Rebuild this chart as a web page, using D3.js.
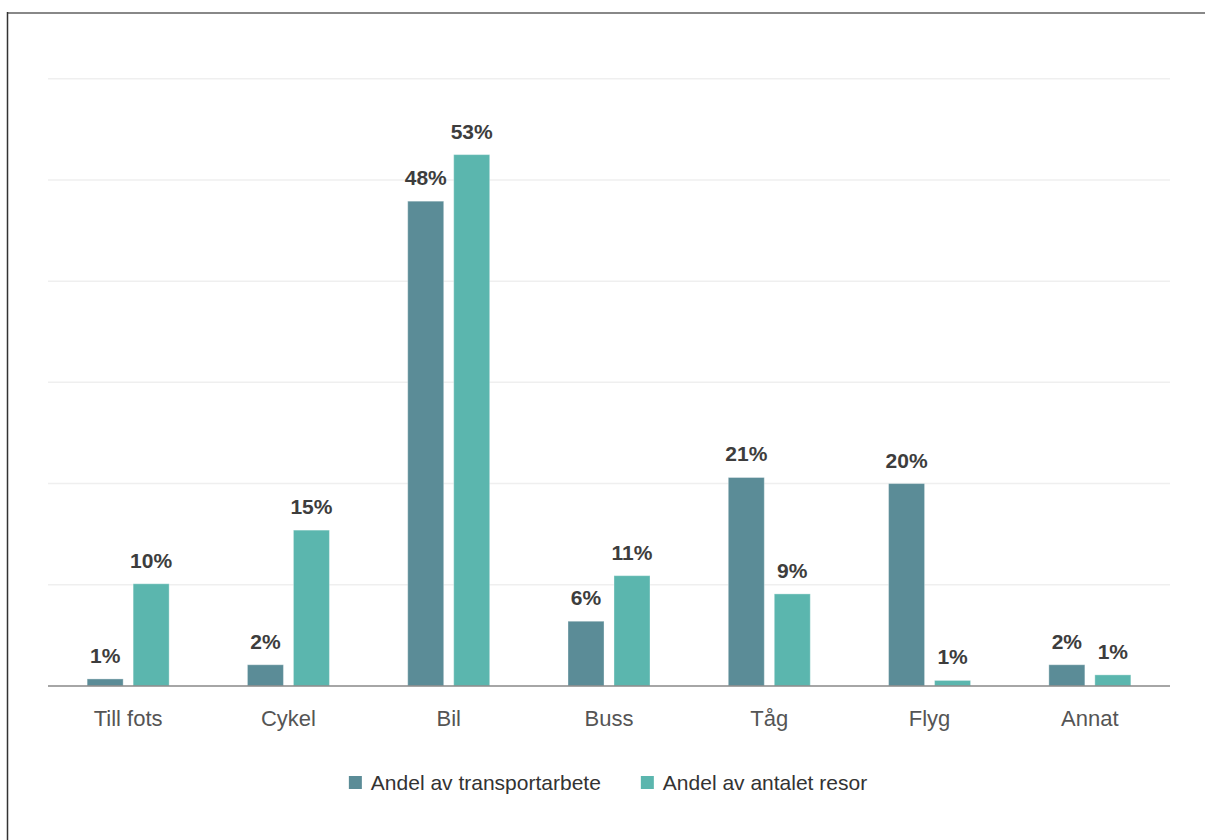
<!DOCTYPE html>
<html>
<head>
<meta charset="utf-8">
<script src="https://cdn.jsdelivr.net/npm/d3@7"></script>
<style>
  html, body { margin: 0; padding: 0; background: #fff; }
  svg { display: block; }
</style>
</head>
<body>
<svg id="chart" width="1205" height="840"></svg>
<script>
const categories = ["Till fots", "Cykel", "Bil", "Buss", "Tåg", "Flyg", "Annat"];
const seriesNames = ["Andel av transportarbete", "Andel av antalet resor"];
const transportarbete = [0.7, 2.1, 47.9, 6.4, 20.6, 20.0, 2.1];
const antaletResor = [10.1, 15.4, 52.5, 10.9, 9.1, 0.55, 1.1];
const yTicks = [0, 10, 20, 30, 40, 50, 60];
const colors = ["#5b8c97", "#5bb6ae"];

(function () {
const svg = d3.select("#chart");
const W = 1205, H = 840;
const mLeft = 48, mRight = 1170, mTop = 78.7, mBottom = 686;

// detect narrow font availability
const probe = svg.append("text").attr("font-family", "'Liberation Sans Narrow', 'Liberation Sans', sans-serif")
  .attr("font-size", 26).text("Till fots");
const probeW = probe.node().getComputedTextLength();
probe.remove();
const narrowOK = probeW < 75;
const labFont = narrowOK ? "'Liberation Sans Narrow', sans-serif" : "'Liberation Sans', Arial, sans-serif";
const axisSize = narrowOK ? 26 : 22;
const legSize = narrowOK ? 25 : 21;

// frame
svg.append("line").attr("x1", 7).attr("x2", W).attr("y1", 13).attr("y2", 13)
  .attr("stroke", "#888").attr("stroke-width", 2);
svg.append("line").attr("x1", 7.5).attr("x2", 7.5).attr("y1", 12).attr("y2", H)
  .attr("stroke", "#333").attr("stroke-width", 1.5);

const x0 = d3.scaleBand().domain(categories).range([mLeft, mRight]).paddingInner(0).paddingOuter(0);
const x1 = d3.scaleBand().domain(seriesNames).range([0, 82]).paddingInner(0.217).paddingOuter(0);
const y = d3.scaleLinear().domain([0, 60]).range([mBottom, mTop]);

// gridlines
svg.append("g").selectAll("line").data(yTicks.filter(d => d > 0)).join("line")
  .attr("x1", mLeft).attr("x2", mRight)
  .attr("y1", d => y(d)).attr("y2", d => y(d))
  .attr("stroke", "#efefef").attr("stroke-width", 1.5);

const data = categories.map((c, i) => ({
  cat: c,
  vals: [
    { s: seriesNames[0], v: transportarbete[i], k: 0 },
    { s: seriesNames[1], v: antaletResor[i], k: 1 }
  ]
}));

const groups = svg.append("g").selectAll("g").data(data).join("g")
  .attr("transform", d => `translate(${x0(d.cat) + x0.bandwidth() / 2 - 41},0)`);

groups.selectAll("rect").data(d => d.vals).join("rect")
  .attr("x", d => x1(d.s))
  .attr("width", x1.bandwidth())
  .attr("y", d => y(d.v))
  .attr("height", d => y(0) - y(d.v))
  .attr("fill", d => colors[d.k])
  .attr("stroke", "rgba(255,255,255,0.35)")
  .attr("stroke-width", 1);

groups.selectAll("text").data(d => d.vals).join("text")
  .attr("x", d => x1(d.s) + x1.bandwidth() / 2)
  .attr("y", d => y(d.v) - 16)
  .attr("text-anchor", "middle")
  .attr("font-family", "'Liberation Sans', Arial, sans-serif")
  .attr("font-weight", "bold")
  .attr("font-size", 21)
  .attr("fill", "#3d3d3d")
  .text(d => Math.round(d.v) + "%");

// baseline axis
const xAxis = d3.axisBottom(x0).tickSize(0).tickPadding(0);
const ax = svg.append("g").attr("transform", `translate(0,${mBottom})`).call(xAxis);
ax.select(".domain").attr("stroke", "#888").attr("stroke-width", 1.5).attr("d", `M${mLeft},0H${mRight}`);
ax.selectAll(".tick text")
  .attr("y", 40).attr("dy", 0)
  .attr("font-family", labFont)
  .attr("font-size", axisSize)
  .attr("fill", "#555");

// legend
const leg = svg.append("g");
const items = leg.selectAll("g").data(seriesNames).join("g");
items.append("rect").attr("width", 13).attr("height", 13).attr("y", 776)
  .attr("fill", (d, i) => colors[i]);
items.append("text").attr("y", 790).attr("x", 22)
  .attr("font-family", labFont)
  .attr("font-size", legSize).attr("fill", "#333")
  .text(d => d);
const widths = [];
items.each(function () { widths.push(22 + d3.select(this).select("text").node().getComputedTextLength()); });
const gap = 40;
const total = widths[0] + gap + widths[1];
const cx = 608 - total / 2;
items.attr("transform", (d, i) => `translate(${i === 0 ? cx : cx + widths[0] + gap},0)`);
})();
</script>
</body>
</html>
